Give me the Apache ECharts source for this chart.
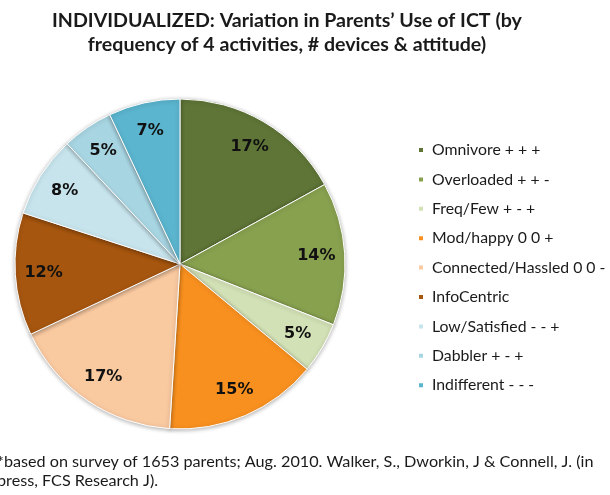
<!DOCTYPE html>
<html>
<head>
<meta charset="utf-8">
<script src="https://cdn.jsdelivr.net/npm/echarts@6/dist/echarts.min.js"></script>
<style>
  html, body { margin: 0; padding: 0; background: #fff; }
  #chart { width: 610px; height: 495px; }
</style>
</head>
<body>
<div id="chart"></div>
<script>
// Parent ICT-use profiles and their share of the sample (%)
const profiles = [
  'Omnivore + + +',
  'Overloaded + + -',
  'Freq/Few + - +',
  'Mod/happy 0 0 +',
  'Connected/Hassled 0 0 -',
  'InfoCentric',
  'Low/Satisfied - - +',
  'Dabbler + - +',
  'Indifferent - - -'
];
const shares = [17, 14, 5, 15, 17, 12, 8, 5, 7];
const sliceColors = [
  '#5f7537', '#88a14f', '#d3e1b6', '#f8901f', '#f9c9a0',
  '#a6560f', '#c7e4ed', '#a8d5e2', '#5bb5ce'
];

const titleLines = [
  'INDIVIDUALIZED: Variation in Parents\u2019 Use of ICT (by',
  'frequency of 4 activities, # devices & attitude)'
];
const footnoteLines = [
  '*based on survey of 1653 parents; Aug. 2010. Walker, S., Dworkin, J & Connell, J. (in',
  'press, FCS Research J).'
];

const pieData = profiles.map((name, i) => ({
  name: name,
  value: shares[i],
  itemStyle: { color: sliceColors[i] }
}));

const chart = echarts.init(document.getElementById('chart'), null, { renderer: 'canvas' });
const center = [180, 264];
const R = 165;

chart.setOption({
  backgroundColor: '#ffffff',
  animation: false,
  title: [
    {
      text: titleLines.join('\n'),
      left: 287, top: 9, textAlign: 'center', padding: 0,
      textStyle: { fontFamily: 'Lato', fontWeight: 'bold', fontSize: 19.6, lineHeight: 24, color: '#1a1a1a' }
    },
    {
      text: footnoteLines.join('\n'),
      left: -3, top: 452, padding: 0,
      textStyle: { fontFamily: 'Lato', fontWeight: 'normal', fontSize: 16.2, lineHeight: 19.5, color: '#1a1a1a' }
    }
  ],
  legend: {
    orient: 'vertical',
    left: 417, top: 141,
    padding: 0,
    icon: 'rect',
    itemWidth: 6, itemHeight: 6,
    itemGap: 11.4,
    data: profiles,
    selectedMode: false,
    textStyle: { fontFamily: 'Lato', fontSize: 15.8, lineHeight: 18, color: '#1a1a1a', padding: [0, 0, 0, 3] }
  },
  series: [
    {
      type: 'pie',
      center: center,
      radius: [0, R],
      startAngle: 90,
      clockwise: true,
      silent: true,
      data: pieData,
      label: { show: false },
      labelLine: { show: false },
      itemStyle: {
        borderColor: '#ffffff', borderWidth: 1,
        shadowBlur: 4, shadowColor: 'rgba(0,0,0,0.3)', shadowOffsetY: 1
      }
    },
    {
      // transparent ring carrying the percentage labels at ~0.8 of the radius
      type: 'pie',
      center: center,
      radius: [R * 0.62, R],
      startAngle: 90,
      clockwise: true,
      silent: true,
      data: profiles.map((name, i) => ({ name: name, value: shares[i] })),
      itemStyle: { color: 'rgba(0,0,0,0)' },
      label: {
        show: true,
        position: 'inside',
        formatter: p => p.value + '%',
        fontFamily: 'DejaVu Sans',
        fontWeight: 'bold',
        fontSize: 16,
        color: '#111111'
      },
      labelLine: { show: false }
    }
  ]
});
</script>
</body>
</html>
